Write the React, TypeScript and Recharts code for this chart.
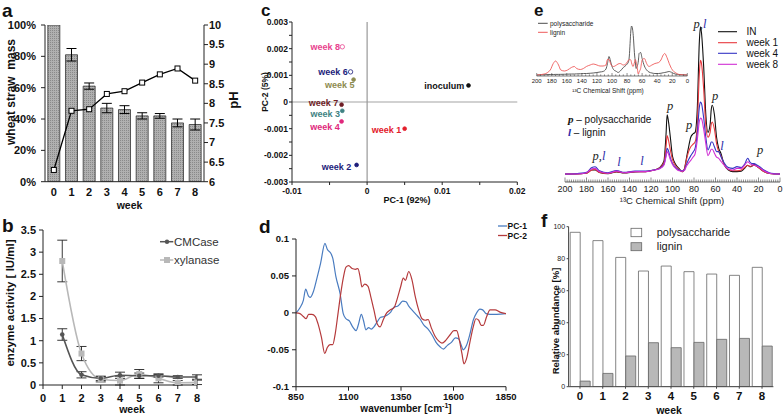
import React from 'react';
import {
  ComposedChart, BarChart, LineChart, ScatterChart, Bar, Line, Scatter,
  XAxis, YAxis, ErrorBar, ReferenceLine,
} from 'recharts';

const FONT = '"Liberation Sans", Arial, Helvetica, sans-serif';
const SERIF = '"Liberation Serif", "Times New Roman", serif';

// ---------- Panel a ----------
const weeks = ['0', '1', '2', '3', '4', '5', '6', '7', '8'];
const strawMass = [100, 81, 61, 47, 46, 42, 42, 37.5, 36.5];
const strawMassErr = [0, 4, 2, 3, 2.5, 2, 1.5, 2.5, 3.5];
const phValues = [6.3, 7.81, 7.85, 8.24, 8.31, 8.53, 8.74, 8.89, 8.58];
const massTicks = [0, 20, 40, 60, 80, 100];
const phTicks = [6, 6.5, 7, 7.5, 8, 8.5, 9, 9.5, 10];

// ---------- Panel b ----------
const enzymeWeeks = [1, 2, 3, 4, 5, 6, 7, 8];
const cmcase = [1.14, 0.23, 0.15, 0.22, 0.21, 0.21, 0.18, 0.18];
const cmcaseErr = [0.13, 0.07, 0.05, 0.07, 0.06, 0.03, 0.03, 0.05];
const xylanase = [2.8, 0.71, 0.13, 0.1, 0.25, 0.15, 0.05, 0.06];
const xylanaseErr = [0.47, 0.16, 0.06, 0.1, 0.1, 0.1, 0.05, 0.05];
const weekTicksNum = [0, 1, 2, 3, 4, 5, 6, 7, 8];
const enzymeTicks = [0, 0.5, 1, 1.5, 2, 2.5, 3, 3.5];

// ---------- Panel c ----------
const pcaNames = ['inoculum', 'week 1', 'week 2', 'week 3', 'week 4', 'week 5', 'week 6', 'week 7', 'week 8'];
const pc1Scores = [0.0135, 0.005, -0.0014, -0.0033, -0.0034, -0.0018, -0.0022, -0.0034, -0.0033];
const pc2Scores = [0.00062, -0.001, -0.00236, -0.00033, -0.00073, 0.00084, 0.00113, -0.0001, 0.00207];
const pcaXTicks = [-0.01, -0.005, 0, 0.005, 0.01, 0.015, 0.02];
const pcaXMajor = [-0.01, 0, 0.01, 0.02];
const pcaYTicks = [-0.003, -0.0025, -0.002, -0.0015, -0.001, -0.0005, 0, 0.0005, 0.001, 0.0015, 0.002, 0.0025, 0.003];
const pcaYMajor = [-0.003, -0.002, -0.001, 0, 0.001, 0.002, 0.003];
// styles for panel c
const pcaColors = ['#111111', '#e3202b', '#1d1d7a', '#3f8283', '#e0287c', '#8d8b50', '#1d1d7a', '#6e1d25', '#e8428e'];
const pcaHollow = [false, false, false, false, false, false, true, false, true];
const pcaLabelDx = [-4.3, -3.3, -5.3, -2.3, -1.7, 1, -2.7, -3.4, -2.3];
const pcaLabelDy = [0.3, 1, 1.7, 3.3, 6, 5, 0, -1.7, 0];

// ---------- Panel d ----------
const pc1Wn = [850, 869, 885, 896, 909, 917, 933, 948, 967, 988, 999, 1015, 1025, 1040, 1060, 1075, 1088, 1104, 1120, 1136, 1148, 1161, 1171, 1183, 1196, 1209, 1221, 1237, 1253, 1269, 1285, 1301, 1317, 1333, 1345, 1358, 1374, 1387, 1402, 1421, 1440, 1460, 1479, 1498, 1517, 1536, 1552, 1571, 1590, 1609, 1624, 1637, 1646, 1662, 1678, 1694, 1710, 1726, 1739, 1755, 1774, 1806, 1850];
const pc1Load = [0, 0.007, 0.017, 0.032, 0.023, 0.021, 0.029, 0.045, 0.067, 0.094, 0.086, 0.081, 0.074, 0.049, 0.026, -0.001, -0.008, -0.011, -0.019, -0.024, -0.015, -0.002, -0.010, -0.023, -0.020, -0.022, -0.019, -0.012, -0.006, -0.005, -0.003, 0.001, 0.008, 0.009, 0.012, 0.016, 0.015, 0.009, 0.004, -0.002, -0.008, -0.017, -0.022, -0.030, -0.040, -0.046, -0.049, -0.044, -0.040, -0.034, -0.035, -0.044, -0.050, -0.044, -0.029, -0.010, 0, 0.005, 0.004, -0.001, -0.002, -0.002, -0.001];
const pc2Wn = [850, 869, 885, 898, 910, 926, 942, 955, 971, 987, 999, 1012, 1025, 1037, 1050, 1063, 1075, 1088, 1101, 1117, 1133, 1145, 1155, 1164, 1177, 1193, 1206, 1221, 1237, 1250, 1266, 1282, 1298, 1317, 1333, 1348, 1361, 1371, 1387, 1402, 1418, 1434, 1450, 1466, 1479, 1494, 1513, 1529, 1545, 1564, 1583, 1602, 1615, 1628, 1640, 1650, 1662, 1678, 1694, 1707, 1720, 1732, 1742, 1758, 1774, 1798, 1821, 1850];
const pc2Load = [0, -0.001, -0.005, -0.008, -0.002, -0.002, -0.005, -0.015, -0.033, -0.055, -0.047, -0.043, -0.043, -0.028, -0.001, 0.026, 0.047, 0.062, 0.064, 0.060, 0.059, 0.060, 0.049, 0.035, 0.039, 0.036, 0.022, 0.004, -0.015, -0.019, -0.009, 0, 0.004, 0.007, 0.020, 0.035, 0.047, 0.044, 0.056, 0.045, 0.022, 0.004, -0.008, -0.010, -0.009, -0.020, -0.032, -0.038, -0.041, -0.037, -0.030, -0.024, -0.024, -0.037, -0.055, -0.069, -0.062, -0.040, -0.019, -0.008, -0.010, -0.017, -0.017, -0.005, 0.004, 0.004, 0.001, -0.001];
const wnTicks = [850, 1100, 1350, 1600, 1850];
const loadTicks = [-0.1, -0.05, 0, 0.05, 0.1];

// ---------- Panel e (main) ----------
const nmrShift = [200, 190, 180, 175, 172, 168, 160, 152, 145, 135, 125, 118, 112, 108, 106, 105, 104, 102, 100, 97, 94, 91, 89, 87, 85, 83, 81, 79, 77, 75, 74, 73, 71, 69, 67, 65, 64, 63, 61, 59, 57, 55, 52, 48, 44, 40, 36, 33, 30, 28, 26, 24, 22, 19, 15, 10, 5, 0];
const nmrIN = [5, 5, 5.5, 7.5, 7.5, 6, 5.2, 6.3, 5.6, 6.3, 6.5, 7.3, 9, 13, 30, 42, 39, 28, 16, 11, 8.5, 6.5, 8, 15, 22, 28, 30, 31, 45, 88, 97, 93, 72, 42, 31, 36, 45, 48, 42, 28, 21, 18, 11, 7.5, 6.5, 6.5, 6.8, 8.5, 10.5, 9.5, 10, 11, 10, 8.5, 6.5, 5.3, 5, 5];
const nmrW1 = [5, 5, 5.5, 7.5, 7.8, 6, 5.3, 6.5, 5.8, 6.5, 6.5, 7.3, 8.8, 12, 22, 29, 27, 20, 14, 10, 8, 6.5, 8, 14, 19, 22, 23.5, 25, 35, 68, 76, 74, 58, 35, 28, 31, 36, 37.5, 33, 24, 19, 16.5, 11, 8, 7, 7, 7.5, 9, 10.5, 9.8, 10, 10.5, 10, 8.5, 6.5, 5.3, 5, 5];
const nmrW4 = [5, 5.2, 6, 9, 9.5, 7, 5.8, 7.2, 6, 6.8, 6.8, 7.5, 8.5, 11, 17, 21, 20, 15, 11.5, 9, 7.5, 7, 7.5, 11, 14, 16.5, 18.5, 21, 30, 47, 50, 49, 40, 28, 20, 23, 25, 25, 22, 19, 19, 16, 12, 9, 8.5, 9.6, 9, 11, 14.8, 12.5, 11.5, 11.5, 10.8, 9.5, 7.5, 5.8, 5.2, 5];
const nmrW8 = [5, 5, 5.8, 8.3, 8.5, 6.5, 5.5, 6.8, 5.8, 6.5, 6.5, 7.3, 8.3, 10.5, 16, 19, 18, 14, 11, 8.5, 7, 6.8, 7.2, 10, 12, 13.5, 15.5, 17.5, 26, 38, 40, 39.5, 33, 24, 16.5, 19, 20.5, 20.5, 18, 15.5, 14.8, 13, 10.5, 8, 7.5, 8.5, 8.5, 10.5, 12.7, 11.5, 10.8, 10.6, 10, 9, 7, 5.5, 5, 5];
const shiftTicks = Array.from({ length: 101 }, (_, i) => 200 - i * 2);

// ---------- Panel e (inset) ----------
const insetShift = [200, 190, 182, 178, 175, 171, 168, 163, 159, 154, 150, 147, 142, 138, 134, 129, 125, 120, 116, 112, 108, 106, 104, 102, 101, 98, 94, 92, 89, 85, 81, 78, 77, 76, 75, 74, 72, 70, 69, 68, 67, 65, 64, 62, 60, 57, 54, 51, 47, 43, 38, 35, 32, 30, 27, 24, 22, 21, 18, 16, 11, 0];
const insetLignin = [2, 4, 12, 25, 30, 22, 12, 10, 12, 17, 19, 15, 13, 15, 19, 22, 24, 22, 20, 20, 22, 33, 33, 25, 22, 19, 22, 24, 25, 22, 25, 32, 33, 33, 32, 26, 19, 28, 33, 28, 22, 4, 8, 15, 32, 35, 25, 19, 22, 25, 27, 32, 42, 45, 37, 25, 18, 15, 9, 7, 3, 2];
const insetPoly = [2, 2.5, 3, 3, 3.2, 3.2, 3.3, 3.5, 3.7, 4, 4, 4.3, 4.5, 5, 5, 5.5, 6, 7, 8, 9, 14, 25, 39, 30, 24, 13, 9, 7, 10, 17, 22, 29, 40, 65, 90, 100, 85, 42, 28, 15, 18, 30, 45, 47, 35, 20, 12, 8, 6, 5, 5, 5.5, 6.5, 7, 8, 9, 8, 7.5, 5, 4, 3, 2];
const insetTicks = Array.from({ length: 41 }, (_, i) => 200 - i * 5);

// ---------- Panel f ----------
const polyAbund = [96.5, 91.3, 80.8, 72.3, 75.4, 71.9, 70.4, 69.6, 74.6];
const ligninAbund = [3.5, 8.3, 19.2, 27.5, 24.4, 27.7, 29.6, 30.2, 25.4];
const abundTicks = [0, 20, 40, 60, 80, 100];

// ---------- derived tables ----------
const dataA = weeks.map((w, i) => ({ week: w, mass: strawMass[i], massErr: strawMassErr[i], ph: phValues[i] }));
const dataB = enzymeWeeks.map((w, i) => ({ week: w, cm: cmcase[i], cmErr: cmcaseErr[i], xy: xylanase[i], xyErr: xylanaseErr[i] }));
const dataC = pcaNames.map((n, i) => ({ name: n, x: pc1Scores[i], y: pc2Scores[i], color: pcaColors[i], hollow: pcaHollow[i], ldx: pcaLabelDx[i], ldy: pcaLabelDy[i] }));
const dataPc1 = pc1Wn.map((w, i) => ({ wn: w, v: pc1Load[i] }));
const dataPc2 = pc2Wn.map((w, i) => ({ wn: w, v: pc2Load[i] }));
const dataIN = nmrShift.map((s, i) => ({ ppm: s, v: nmrIN[i] }));
const dataW1 = nmrShift.map((s, i) => ({ ppm: s, v: nmrW1[i] }));
const dataW4 = nmrShift.map((s, i) => ({ ppm: s, v: nmrW4[i] }));
const dataW8 = nmrShift.map((s, i) => ({ ppm: s, v: nmrW8[i] }));
const dataInsetLig = insetShift.map((s, i) => ({ ppm: s, v: insetLignin[i] }));
const dataInsetPoly = insetShift.map((s, i) => ({ ppm: s, v: insetPoly[i] }));
const dataF = weeks.map((w, i) => ({ week: w, poly: polyAbund[i], lig: ligninAbund[i] }));

// ---------- helpers ----------
const bold = (fs: number) => ({ fontSize: fs, fontWeight: 'bold', fill: '#111', fontFamily: FONT });
const AX = { stroke: '#222', strokeWidth: 1 };

const SquareDot = (props: any) => {
  const { cx, cy, index } = props;
  if (cx == null || cy == null) return <g key={`sq${index}`} />;
  return <rect key={`sq${index}`} x={cx - 2.5} y={cy - 2.5} width={5} height={5} fill="#fff" stroke="#000" strokeWidth={1} />;
};
const XyDot = (props: any) => {
  const { cx, cy, index } = props;
  if (cx == null || cy == null) return <g key={`xy${index}`} />;
  return <rect key={`xy${index}`} x={cx - 3} y={cy - 3} width={6} height={6} fill="#b8b8b8" stroke="none" />;
};
const CmDot = (props: any) => {
  const { cx, cy, index } = props;
  if (cx == null || cy == null) return <g key={`cm${index}`} />;
  return <circle key={`cm${index}`} cx={cx} cy={cy} r={2.3} fill="#555" />;
};

const PcaPoint = (props: any) => {
  const { cx, cy, payload } = props;
  if (cx == null || cy == null) return <g />;
  return (
    <g>
      <circle cx={cx} cy={cy} r={payload.hollow ? 2.2 : 1.9} fill={payload.hollow ? '#fff' : payload.color} stroke={payload.color} strokeWidth={0.8} />
      <text x={cx + payload.ldx} y={cy + payload.ldy} textAnchor="end" dominantBaseline="central" fontSize={9} fontWeight="bold" fill={payload.color} fontFamily={FONT}>{payload.name}</text>
    </g>
  );
};

const makeRulerTick = (major: number, fs: number, majLen: number, minLen: number, labelDy: number) => (props: any) => {
  const { x, y, payload } = props;
  const v = payload.value;
  const isMajor = Math.abs(v % major) < 1e-6;
  return (
    <g>
      <line x1={x} x2={x} y1={y} y2={y - (isMajor ? majLen : minLen)} stroke="#444" strokeWidth={0.6} />
      {isMajor && (
        <text x={x} y={y + labelDy} textAnchor="middle" fontSize={fs} fill="#222" fontFamily={FONT}>{v}</text>
      )}
    </g>
  );
};
const MainShiftTick = makeRulerTick(20, 9, 4.5, 2.5, 9.8);
const InsetShiftTick = makeRulerTick(20, 6, 3, 1.6, 7);

const fmtPcaX = (v: number) => (pcaXMajor.some((m) => Math.abs(m - v) < 1e-9) ? String(v) : '');
const fmtPcaY = (v: number) => (pcaYMajor.some((m) => Math.abs(m - v) < 1e-9) ? String(v) : '');

const abs = (left: number, top: number): React.CSSProperties => ({ position: 'absolute', left, top });

export default function App() {
  return (
    <div style={{ position: 'fixed', left: 0, top: 0, width: 784, height: 419, background: '#fff', overflow: 'hidden', fontFamily: FONT }}>
      {/* Panel a */}
      <div style={abs(0, 0)}>
        <ComposedChart width={260} height={210} data={dataA} margin={{ top: 25, right: 0, bottom: 0, left: 0 }} barCategoryGap="16%">
          <defs>
            <pattern id="hatchA" width="2" height="2" patternUnits="userSpaceOnUse">
              <rect width="2" height="2" fill="#b0b0b0" />
              <rect width="1" height="1" fill="#8a8a8a" />
            </pattern>
          </defs>
          <XAxis dataKey="week" height={28.3} tick={bold(11)} tickLine={false} tickSize={4} tickMargin={2} axisLine={AX} interval={0} />
          <YAxis yAxisId="left" width={45} domain={[0, 100]} ticks={massTicks} allowDataOverflow interval={0}
            tickFormatter={(v: number) => `${v}%`} tick={bold(11)} tickSize={4} tickMargin={5} axisLine={AX} tickLine={AX} />
          <YAxis yAxisId="right" orientation="right" width={56} domain={[6, 10]} ticks={phTicks} allowDataOverflow interval={0}
            tick={bold(11)} tickSize={4} tickMargin={1} axisLine={AX} tickLine={AX} />
          <Bar yAxisId="left" dataKey="mass" fill="url(#hatchA)" stroke="#333" strokeWidth={0.8} isAnimationActive={false}>
            <ErrorBar dataKey="massErr" width={5} stroke="#000" strokeWidth={1} />
          </Bar>
          <Line yAxisId="right" type="linear" dataKey="ph" stroke="#000" strokeWidth={1.3} dot={SquareDot} isAnimationActive={false} />
        </ComposedChart>
      </div>

      {/* Panel b */}
      <div style={abs(0, 200)}>
        <LineChart width={260} height={219} data={dataB} margin={{ top: 30, right: 63, bottom: 0, left: 0 }}>
          <XAxis dataKey="week" type="number" domain={[0, 8]} ticks={weekTicksNum} allowDataOverflow interval={0}
            height={34} tick={bold(11)} tickSize={4} tickMargin={5} axisLine={AX} tickLine={AX} />
          <YAxis width={43} domain={[0, 3.5]} ticks={enzymeTicks} allowDataOverflow interval={0}
            tick={bold(11)} tickSize={4} tickMargin={3} axisLine={AX} tickLine={AX} />
          <Line type="monotone" dataKey="xy" stroke="#b8b8b8" strokeWidth={1.6} dot={XyDot} isAnimationActive={false}>
            <ErrorBar dataKey="xyErr" width={5} stroke="#222" strokeWidth={0.9} />
          </Line>
          <Line type="monotone" dataKey="cm" stroke="#555" strokeWidth={1.6} dot={CmDot} isAnimationActive={false}>
            <ErrorBar dataKey="cmErr" width={5} stroke="#222" strokeWidth={0.9} />
          </Line>
        </LineChart>
      </div>

      {/* Panel c */}
      <div style={abs(260, 0)}>
        <ScatterChart width={275} height={210} margin={{ top: 22, right: 17.7, bottom: 0, left: 0 }}>
          <XAxis type="number" dataKey="x" domain={[-0.01, 0.02]} ticks={pcaXTicks} tickFormatter={fmtPcaX} allowDataOverflow interval={0}
            height={28} tick={bold(8.5)} tickSize={3} tickMargin={3} axisLine={AX} tickLine={AX} />
          <YAxis type="number" dataKey="y" domain={[-0.003, 0.003]} ticks={pcaYTicks} tickFormatter={fmtPcaY} allowDataOverflow interval={0}
            width={32} tick={bold(8.5)} tickSize={3} tickMargin={1} axisLine={AX} tickLine={AX} />
          <ReferenceLine x={0} stroke="#666" strokeWidth={0.8} />
          <ReferenceLine y={0} stroke="#999" strokeWidth={0.9} />
          <Scatter data={dataC} shape={PcaPoint} isAnimationActive={false} />
        </ScatterChart>
      </div>

      {/* Panel d */}
      <div style={abs(260, 200)}>
        <LineChart width={260} height={219} margin={{ top: 39, right: 14, bottom: 0, left: 0 }}>
          <XAxis dataKey="wn" type="number" domain={[850, 1850]} ticks={wnTicks} allowDataOverflow interval={0}
            height={32.3} tick={bold(9.5)} tickSize={4} tickMargin={2.5} axisLine={AX} tickLine={AX} />
          <YAxis domain={[-0.1, 0.1]} ticks={loadTicks} allowDataOverflow interval={0}
            width={36} tick={bold(9.5)} tickSize={4} tickMargin={3} axisLine={AX} tickLine={AX} />
          <Line data={dataPc1} dataKey="v" type="monotone" stroke="#4a7cc0" strokeWidth={1.2} dot={false} isAnimationActive={false} />
          <Line data={dataPc2} dataKey="v" type="monotone" stroke="#b53a3c" strokeWidth={1.2} dot={false} isAnimationActive={false} />
        </LineChart>
      </div>

      {/* Panel e main */}
      <div style={abs(520, 0)}>
        <LineChart width={264} height={210} margin={{ top: 22, right: 4, bottom: 0, left: 45 }}>
          <XAxis dataKey="ppm" type="number" domain={[0, 200]} reversed ticks={shiftTicks} allowDataOverflow interval={0}
            height={28} tick={MainShiftTick} tickSize={0} tickMargin={0} tickLine={false} axisLine={{ stroke: '#333', strokeWidth: 0.8 }} />
          <YAxis hide domain={[0, 100]} allowDataOverflow />
          <Line data={dataIN} dataKey="v" type="monotone" stroke="#111" strokeWidth={1.1} dot={false} isAnimationActive={false} />
          <Line data={dataW1} dataKey="v" type="monotone" stroke="#e8383e" strokeWidth={1.1} dot={false} isAnimationActive={false} />
          <Line data={dataW4} dataKey="v" type="monotone" stroke="#3535c4" strokeWidth={1.1} dot={false} isAnimationActive={false} />
          <Line data={dataW8} dataKey="v" type="monotone" stroke="#d02fd4" strokeWidth={1.1} dot={false} isAnimationActive={false} />
        </LineChart>
      </div>

      {/* Panel e inset */}
      <div style={abs(520, 0)}>
        <LineChart width={175} height={100} margin={{ top: 26, right: 7.7, bottom: 0, left: 16.7 }}>
          <XAxis dataKey="ppm" type="number" domain={[0, 200]} reversed ticks={insetTicks} allowDataOverflow interval={0}
            height={24} tick={InsetShiftTick} tickSize={0} tickMargin={0} tickLine={false} axisLine={{ stroke: '#444', strokeWidth: 0.7 }} />
          <YAxis hide domain={[0, 100]} allowDataOverflow />
          <Line data={dataInsetPoly} dataKey="v" type="monotone" stroke="#4d4d4d" strokeWidth={0.9} dot={false} isAnimationActive={false} />
          <Line data={dataInsetLig} dataKey="v" type="monotone" stroke="#ee5a5a" strokeWidth={0.9} dot={false} isAnimationActive={false} />
        </LineChart>
      </div>

      {/* Panel f */}
      <div style={abs(520, 200)}>
        <BarChart width={264} height={219} data={dataF} margin={{ top: 26.7, right: 10.6, bottom: 0, left: 0 }} barCategoryGap="7%" barGap={0}>
          <XAxis dataKey="week" height={32.3} tick={bold(11.5)} tickSize={2} tickMargin={3} interval={0} axisLine={{ stroke: '#444' }} tickLine={{ stroke: '#444' }} />
          <YAxis width={48.6} domain={[0, 100]} ticks={abundTicks} allowDataOverflow interval={0}
            tick={{ fontSize: 7, fill: '#222', fontFamily: FONT }} tickSize={2} tickMargin={1.5} axisLine={{ stroke: '#444' }} tickLine={{ stroke: '#444' }} />
          <Bar dataKey="poly" fill="#ffffff" stroke="#666" strokeWidth={0.8} isAnimationActive={false} />
          <Bar dataKey="lig" fill="#b8b8b8" stroke="#666" strokeWidth={0.8} isAnimationActive={false} />
        </BarChart>
      </div>

      {/* Text overlay: panel letters, titles, legends, annotations */}
      <svg width={784} height={419} style={{ position: 'absolute', left: 0, top: 0, pointerEvents: 'none' }} fontFamily={FONT}>
        {/* panel letters */}
        <g fontWeight="bold" fill="#111">
          <text x={2} y={17} fontSize={19}>a</text>
          <text x={2} y={232} fontSize={19}>b</text>
          <text x={261} y={15.5} fontSize={17}>c</text>
          <text x={259} y={233} fontSize={19}>d</text>
          <text x={534} y={15.5} fontSize={17}>e</text>
          <text x={541} y={227} fontSize={19}>f</text>
        </g>

        {/* panel a titles */}
        <text x={11} y={92} transform="rotate(-90 11 92)" textAnchor="middle" dominantBaseline="central" fontSize={12} fontWeight="bold" fill="#111" style={{ whiteSpace: 'pre' }}>wheat straw  mass</text>
        <text x={233} y={100} transform="rotate(-90 233 100)" textAnchor="middle" dominantBaseline="central" fontSize={13} fontWeight="bold" fill="#111">pH</text>
        <text x={129.5} y={209} textAnchor="middle" fontSize={10.5} fontWeight="bold" fill="#111">week</text>

        {/* panel b titles + legend */}
        <text x={9.5} y={303} transform="rotate(-90 9.5 303)" textAnchor="middle" dominantBaseline="central" fontSize={11.5} fontWeight="bold" fill="#111">enzyme activity [ IU/ml]</text>
        <text x={132} y={413} textAnchor="middle" fontSize={10.5} fontWeight="bold" fill="#111">week</text>
        <line x1={160} x2={173.3} y1={241.7} y2={241.7} stroke="#555" strokeWidth={1.5} />
        <circle cx={167} cy={241.7} r={2.2} fill="#555" />
        <text x={174} y={245.6} fontSize={11.5} fill="#333">CMCase</text>
        <line x1={160} x2={173.3} y1={260} y2={260} stroke="#b8b8b8" strokeWidth={1.5} />
        <rect x={164} y={257} width={6} height={6} fill="#b8b8b8" />
        <text x={174} y={263.9} fontSize={11.5} fill="#333">xylanase</text>

        {/* panel c titles */}
        <text x={407} y={203} textAnchor="middle" fontSize={9} fontWeight="bold" fill="#111">PC-1 (92%)</text>
        <text x={264.5} y={92} transform="rotate(-90 264.5 92)" textAnchor="middle" dominantBaseline="central" fontSize={8.5} fontWeight="bold" fill="#111">PC-2 (5%)</text>

        {/* panel d title + legend */}
        <text x={406} y={412} textAnchor="middle" fontSize={10} fontWeight="bold" fill="#111">
          wavenumber [cm<tspan dy={-4} fontSize={7}>-1</tspan><tspan dy={4}>]</tspan>
        </text>
        <line x1={498} x2={507} y1={226} y2={226} stroke="#4a7cc0" strokeWidth={1.3} />
        <text x={507.5} y={229} fontSize={8.5} fontWeight="bold" fill="#111">PC-1</text>
        <line x1={498} x2={507} y1={235.5} y2={235.5} stroke="#b53a3c" strokeWidth={1.3} />
        <text x={507.5} y={238.5} fontSize={8.5} fontWeight="bold" fill="#111">PC-2</text>

        {/* panel e legend */}
        <g fontSize={10} fill="#111">
          <line x1={718} x2={737} y1={31.7} y2={31.7} stroke="#111" strokeWidth={1.1} />
          <text x={746.5} y={35.2}>IN</text>
          <line x1={718} x2={737} y1={42.7} y2={42.7} stroke="#e8383e" strokeWidth={1.1} />
          <text x={746.5} y={46.2}>week 1</text>
          <line x1={718} x2={737} y1={53.3} y2={53.3} stroke="#3535c4" strokeWidth={1.1} />
          <text x={746.5} y={56.8}>week 4</text>
          <line x1={718} x2={737} y1={64.3} y2={64.3} stroke="#d02fd4" strokeWidth={1.1} />
          <text x={746.5} y={67.8}>week 8</text>
        </g>
        {/* inset legend + title */}
        <g fontSize={6.5} fill="#222">
          <line x1={538} x2={547.7} y1={23.3} y2={23.3} stroke="#4d4d4d" strokeWidth={1} />
          <text x={550} y={25.6}>polysaccharide</text>
          <line x1={538} x2={547.7} y1={32.3} y2={32.3} stroke="#ee5a5a" strokeWidth={1} />
          <text x={550} y={34.6}>lignin</text>
          <text x={608} y={93} textAnchor="middle">¹³C Chemical Shift (ppm)</text>
        </g>
        <text x={672} y={204} textAnchor="middle" fontSize={9.5} fill="#222">¹³C Chemical Shift (ppm)</text>
        {/* e key */}
        <text x={568} y={123} fontSize={10} fill="#111">
          <tspan fontFamily={SERIF} fontStyle="italic" fontWeight="bold" fontSize={11}>p</tspan> – polysaccharide
        </text>
        <text x={568} y={136} fontSize={10} fill="#111">
          <tspan fontFamily={SERIF} fontStyle="italic" fontWeight="bold" fontSize={11} fill="#2a2aa8">l</tspan> – lignin
        </text>
        {/* e peak annotations */}
        <g fontFamily={SERIF} fontStyle="italic" fontSize={12.5} textAnchor="middle">
          <text x={700} y={28} fill="#222">p,<tspan fill="#2a2aa8">l</tspan></text>
          <text x={715} y={100} fill="#222">p</text>
          <text x={670} y={110} fill="#222">p</text>
          <text x={689} y={129} fill="#222">p</text>
          <text x={722} y={150} fill="#2a2aa8">l</text>
          <text x={599} y={160} fill="#222">p,<tspan fill="#2a2aa8">l</tspan></text>
          <text x={619} y={166} fill="#2a2aa8">l</text>
          <text x={642} y={165} fill="#2a2aa8">l</text>
          <text x={760} y={154} fill="#222">p</text>
        </g>

        {/* panel f titles + legend */}
        <text x={555} y={321} transform="rotate(-90 555 321)" textAnchor="middle" dominantBaseline="central" fontSize={9.5} fontWeight="bold" fill="#111">Relative abundance [%]</text>
        <text x={669} y={414} textAnchor="middle" fontSize={10.5} fontWeight="bold" fill="#111">week</text>
        <rect x={631} y={228.3} width={10.7} height={8.4} fill="#fff" stroke="#666" strokeWidth={0.8} />
        <text x={656.7} y={236.4} fontSize={11} fill="#222">polysaccharide</text>
        <rect x={631} y={242.7} width={10.7} height={8} fill="#b8b8b8" stroke="#666" strokeWidth={0.8} />
        <text x={656.7} y={250.3} fontSize={11} fill="#222">lignin</text>
      </svg>
    </div>
  );
}
